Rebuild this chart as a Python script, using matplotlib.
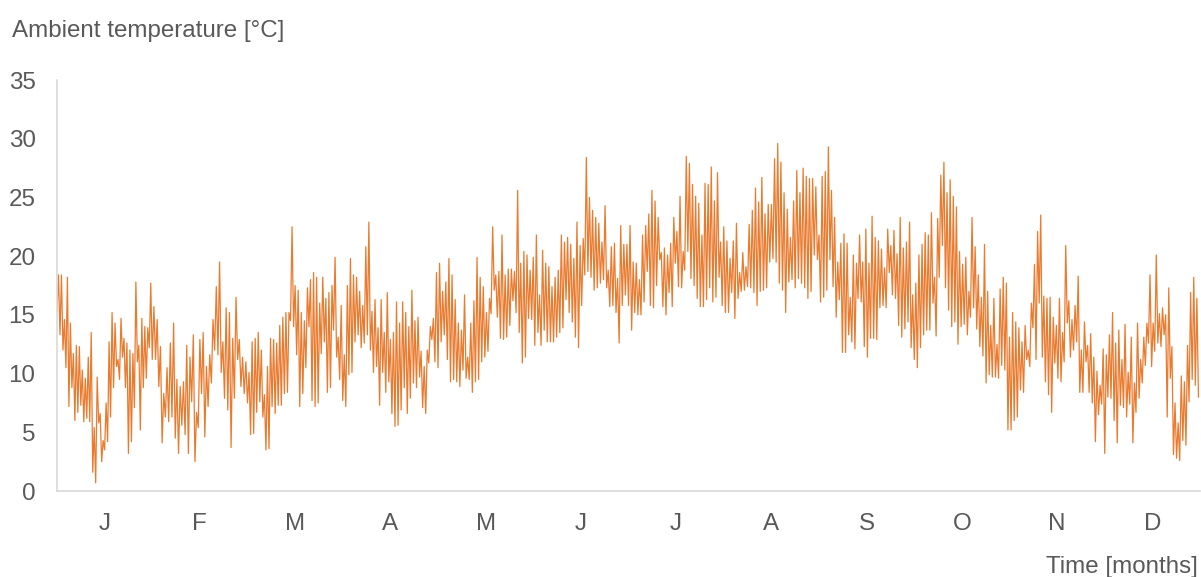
import matplotlib
matplotlib.use("Agg")
import matplotlib.pyplot as plt
import numpy as np

# daily highs and lows, one list per month (degC)
months = ["J", "F", "M", "A", "M", "J", "J", "A", "S", "O", "N", "D"]

jan = [15.3, 18.4, 13.3, 18.4, 12.0, 14.6, 10.5, 18.2, 7.2, 14.3, 8.8, 11.7, 6.0, 12.4, 6.7, 12.3,
       7.3, 10.3, 5.9, 9.6, 6.2, 11.4, 5.9, 13.5, 1.6, 5.4, 0.7, 9.7, 5.8, 6.6, 2.5, 4.3, 3.5, 7.5,
       4.2, 12.7, 6.3, 15.2, 8.8, 14.3, 10.6, 11.2, 9.5, 14.7, 11.4, 13.0, 8.8, 12.6, 3.2, 12.0,
       4.2, 11.7, 7.1, 17.8, 11.0, 12.4, 5.2, 14.7, 8.8, 14.0, 9.6, 13.9, 12.2, 17.7]
feb = [11.2, 15.7, 11.2, 14.6, 8.9, 12.3, 4.1, 8.3, 6.3, 10.5, 5.9, 12.6, 6.3, 14.3, 4.5, 9.5,
       3.2, 8.9, 5.6, 9.3, 4.8, 12.4, 3.2, 11.4, 7.6, 13.3, 2.5, 6.7, 5.4, 12.9, 8.3, 13.5, 4.6,
       10.6, 7.2, 11.6, 9.2, 14.6, 12.0, 17.4, 11.6, 19.5, 10.1, 12.7, 7.9, 15.6, 6.9, 15.2, 3.7,
       13.0, 7.9, 16.5, 11.2, 12.9, 8.9, 11.4, 8.3, 11.0]
mar = [7.5, 10.1, 4.8, 12.7, 4.9, 13.0, 6.7, 13.5, 7.6, 12.0, 6.3, 8.2, 3.5, 10.6, 3.6, 13.0,
       7.2, 12.9, 6.6, 12.6, 7.3, 14.1, 7.3, 14.8, 8.3, 15.2, 8.4, 15.2, 14.5, 22.5, 14.0, 17.5,
       11.6, 17.1, 7.2, 15.2, 8.3, 14.5, 10.5, 17.3, 14.0, 18.0, 7.7, 18.6, 7.2, 18.2, 7.5, 16.0,
       11.7, 18.2, 12.7, 16.4, 8.4, 16.9, 8.8, 17.5, 13.7, 19.9, 11.4, 13.1, 9.5, 15.8]
apr = [7.7, 11.6, 7.2, 17.5, 9.9, 19.8, 10.1, 18.4, 12.7, 18.2, 13.3, 17.0, 12.2, 15.8, 12.6,
       20.8, 13.3, 22.9, 12.0, 15.3, 10.1, 16.3, 10.6, 13.9, 7.3, 16.3, 10.1, 13.5, 8.4, 16.9, 9.3,
       12.9, 6.6, 13.5, 5.5, 16.1, 5.6, 14.3, 6.9, 16.1, 8.8, 15.2, 6.6, 14.0, 7.9, 17.1, 9.2, 14.5,
       8.8, 14.8, 9.7, 11.9, 7.1, 10.6, 6.6, 12.0, 10.9, 14.0, 12.9, 14.7, 11.0, 18.6]
may = [10.5, 19.4, 12.7, 17.0, 13.3, 17.8, 11.2, 19.8, 9.3, 18.4, 9.5, 16.3, 9.3, 14.3, 8.9,
       13.7, 10.3, 16.7, 9.6, 11.4, 9.5, 14.3, 8.4, 16.2, 9.3, 19.9, 9.5, 18.2, 11.0, 17.4, 11.4,
       15.2, 11.9, 16.4, 15.1, 22.5, 17.1, 18.4, 14.8, 18.7, 13.0, 21.8, 12.9, 18.4, 13.1, 18.9,
       14.1, 18.9, 16.2, 18.7, 15.2, 25.6, 13.5, 19.4, 10.9, 20.4, 11.4, 20.1, 14.7, 18.8, 14.6]
jun = [19.9, 12.4, 21.8, 13.5, 16.7, 12.4, 20.5, 13.7, 19.4, 12.7, 19.1, 12.7, 17.4, 12.7, 18.2,
       13.1, 18.8, 13.5, 21.8, 13.9, 21.2, 16.3, 21.6, 15.2, 21.0, 14.4, 19.8, 13.1, 22.9, 12.2,
       20.9, 15.8, 21.5, 18.4, 28.4, 18.7, 25.0, 18.2, 23.9, 17.1, 23.3, 17.3, 22.8, 17.7, 21.2,
       18.0, 24.3, 17.3, 18.8, 15.7, 20.8, 15.8, 21.1, 15.2, 18.1, 12.6, 22.6, 15.8, 21.0, 16.7, 21.0]
jul = [15.8, 22.6, 13.7, 19.5, 15.2, 19.4, 15.0, 18.0, 15.0, 21.8, 16.1, 22.6, 18.7, 23.6, 15.8,
       25.6, 15.6, 24.7, 17.5, 23.3, 19.7, 20.3, 15.7, 20.7, 15.0, 20.1, 16.9, 21.1, 15.7, 23.3,
       19.4, 22.1, 17.4, 25.1, 17.3, 20.4, 18.8, 28.5, 20.4, 27.9, 18.1, 26.1, 17.5, 25.1, 16.4,
       24.5, 15.7, 21.8, 15.7, 26.2, 16.3, 26.1, 17.3, 27.6, 16.1, 24.7, 16.5, 27.1, 18.2, 21.2, 15.8]
aug = [22.5, 15.2, 21.3, 15.2, 19.8, 16.9, 21.3, 14.7, 22.8, 16.4, 18.6, 17.0, 20.3, 17.1, 19.1,
       17.4, 22.7, 17.3, 23.9, 16.9, 25.8, 15.8, 24.6, 17.0, 26.7, 17.1, 23.6, 17.3, 24.4, 19.5,
       24.4, 19.8, 28.3, 19.5, 29.6, 17.7, 28.0, 17.1, 25.4, 15.2, 24.0, 17.8, 21.6, 18.0, 24.7,
       17.3, 27.3, 18.1, 25.4, 17.7, 27.5, 17.3, 26.8, 16.4, 26.6, 17.0, 26.6, 20.1, 25.9, 19.7]
sep = [21.8, 16.1, 26.8, 16.5, 27.2, 17.1, 29.3, 19.7, 25.6, 17.4, 23.3, 14.8, 19.5, 16.3, 21.1,
       11.8, 21.9, 11.8, 21.1, 13.3, 16.5, 12.7, 20.1, 12.1, 19.4, 16.4, 21.8, 16.1, 19.5, 12.3,
       22.3, 11.4, 19.4, 13.0, 23.4, 13.0, 21.6, 12.9, 21.3, 15.6, 20.6, 15.8, 19.0, 15.6, 22.3,
       18.6, 20.9, 16.7, 22.2, 16.4, 20.2, 14.1, 23.3, 13.1, 20.7, 13.8, 21.2, 14.4, 22.9, 12.2, 16.7]
oct_ = [11.2, 17.7, 10.5, 20.1, 12.2, 21.0, 13.3, 22.0, 13.7, 21.8, 13.7, 23.7, 16.0, 18.2, 13.2,
        23.2, 18.2, 26.9, 20.9, 28.0, 17.3, 25.4, 15.4, 26.5, 14.0, 25.1, 14.4, 24.2, 12.5, 20.4,
        14.0, 19.3, 14.2, 19.9, 13.3, 17.0, 14.8, 23.3, 15.6, 20.8, 13.8, 18.4, 12.3, 16.5, 11.5,
        21.0, 9.2, 17.0, 9.9, 14.1, 9.7, 16.4, 9.7, 12.5, 9.6, 17.2, 10.7, 18.2, 10.3, 17.7, 5.2]
nov = [13.1, 5.2, 15.2, 6.0, 14.4, 6.3, 13.9, 8.6, 12.7, 8.4, 14.1, 11.2, 12.0, 10.6, 16.0, 13.9,
       19.3, 11.2, 22.1, 16.0, 23.5, 11.4, 16.6, 9.3, 16.4, 8.2, 16.5, 6.7, 14.8, 10.9, 14.1, 9.6,
       16.4, 9.3, 13.5, 11.0, 20.9, 14.3, 16.2, 11.4, 14.6, 12.0, 15.8, 12.7, 18.3, 8.4, 12.0, 8.4,
       14.4, 11.0, 12.4, 8.4, 13.4, 7.5, 11.4, 4.2, 10.2, 6.5, 9.0, 7.4, 12.1]
dec = [3.2, 11.6, 8.0, 13.3, 7.9, 15.2, 6.0, 12.6, 4.1, 13.7, 7.3, 11.2, 7.1, 14.2, 6.3, 10.1,
       7.4, 13.1, 4.1, 9.2, 6.7, 14.3, 7.9, 11.2, 9.2, 13.1, 10.7, 14.3, 12.6, 18.4, 10.6, 14.3,
       11.9, 20.1, 12.6, 15.1, 12.3, 15.6, 13.3, 15.0, 6.3, 17.3, 9.6, 12.3, 3.1, 7.5, 2.8, 5.8,
       2.6, 9.8, 4.3, 9.3, 3.9, 12.4, 7.6, 16.9, 9.5, 18.2, 9.0, 16.4, 8.0]

monthly = [jan, feb, mar, apr, may, jun, jul, aug, sep, oct_, nov, dec]

# spread each month's readings evenly over that month's slot
x, y = [], []
for m, vals in enumerate(monthly):
    n = len(vals)
    x.extend(m + np.arange(n) / n)
    y.extend(vals)

grey = "#595959"
fs = 17.4
plt.rcParams["font.family"] = ["Liberation Sans", "DejaVu Sans"]

fig = plt.figure(figsize=(12.01, 5.77), dpi=100)
ax = fig.add_axes([57 / 1201, 1 - 491 / 577, 1143 / 1201, 411 / 577])
ax.plot(x, y, color="#EA7A2E", linewidth=0.9)

ax.set_xlim(0, 12)
ax.set_ylim(0, 35)
ax.set_yticks(range(0, 36, 5))
ax.set_xticks(np.arange(12) + 0.5)
ax.set_xticklabels(months)
ax.tick_params(axis="both", length=0, labelsize=fs, colors=grey)
ax.tick_params(axis="y", pad=15.5)
ax.tick_params(axis="x", pad=16)

for s in ["top", "right"]:
    ax.spines[s].set_visible(False)
for s in ["left", "bottom"]:
    ax.spines[s].set_color("#D9D9D9")
    ax.spines[s].set_linewidth(1.2)

fig.text(12 / 1201, 1 - 31 / 577, "Ambient temperature [°C]", fontsize=fs, color=grey,
         ha="left", va="center")
fig.text(1198 / 1201, 1 - 567 / 577, "Time [months]", fontsize=fs, color=grey,
         ha="right", va="center")

fig.savefig("out.png", dpi=100)
